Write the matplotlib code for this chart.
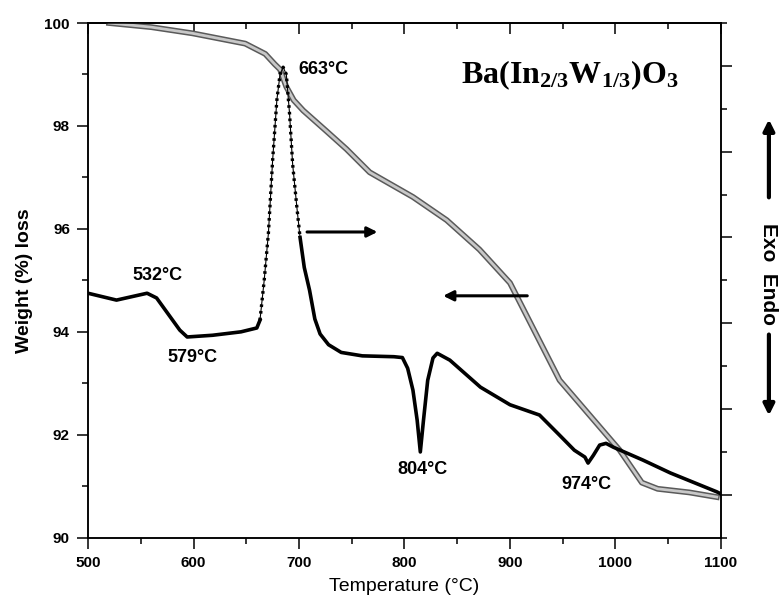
import matplotlib
matplotlib.use("Agg")
import matplotlib.pyplot as plt
import matplotlib.patheffects as pe
import numpy as np

plt.rcParams['font.family'] = ['Liberation Sans', 'DejaVu Sans']
plt.rcParams['mathtext.fontset'] = 'custom'
plt.rcParams['mathtext.bf'] = 'Liberation Serif:bold'
plt.rcParams['mathtext.rm'] = 'Liberation Serif:bold'

# TG curve (weight %, left axis)
tg_temp = [520, 560, 599, 649, 668, 677, 682, 688, 695, 704, 726, 745, 767, 808,
           840, 871, 900, 947, 1004, 1025, 1040, 1070, 1096]
tg_weight = [100.0, 99.92, 99.8, 99.6, 99.4, 99.2, 99.1, 98.76, 98.5, 98.3, 97.9,
             97.55, 97.1, 96.62, 96.17, 95.6, 94.95, 93.06, 91.7, 91.07, 90.95,
             90.88, 90.79]

# DTA curve (arbitrary units, right axis)
dta_temp = [500, 527, 556, 565, 587, 594, 618, 645, 660, 663, 667, 671, 675, 679,
            682, 685, 688, 691, 694, 698, 701, 705, 710, 715, 720, 728, 740, 760,
            790, 798, 803, 808, 812, 815, 818, 822, 827, 831, 843, 872, 900, 928,
            947, 961, 971, 974, 979, 985, 991, 998, 1026, 1052, 1073, 1096, 1100]
dta_signal = [4.70, 4.54, 4.70, 4.59, 3.84, 3.68, 3.72, 3.80, 3.89, 4.07, 5.0, 6.1,
              7.8, 9.2, 9.8, 9.97, 9.8, 8.9, 7.7, 6.7, 6.0, 5.3, 4.77, 4.1, 3.75,
              3.5, 3.32, 3.24, 3.22, 3.2, 2.95, 2.44, 1.74, 1.0, 1.74, 2.67, 3.19,
              3.30, 3.14, 2.51, 2.1, 1.86, 1.39, 1.04, 0.88, 0.74, 0.92, 1.16, 1.2,
              1.11, 0.81, 0.51, 0.30, 0.07, 0.02]

peak_labels = ["532°C", "579°C", "663°C", "804°C", "974°C"]
peak_label_x = [566, 599, 699, 817, 972]
peak_label_y = [95.1, 93.5, 99.1, 91.32, 91.03]
peak_label_ha = ["center", "center", "left", "center", "center"]

fig = plt.figure(figsize=(7.83, 6.01), dpi=100)
ax = fig.add_axes([0.1124, 0.1053, 0.8084, 0.8564])
ax2 = ax.twinx()

# TG: grey hollow-square look
ax.plot(tg_temp, tg_weight, color='#c8c8c8', lw=2.0, zorder=3,
        path_effects=[pe.Stroke(linewidth=4.2, foreground='#5a5a5a'), pe.Normal()])

# DTA: solid black, dotted on the steep exothermic peak
dta_temp = np.array(dta_temp)
dta_signal = np.array(dta_signal)
steep = (dta_temp >= 663) & (dta_temp <= 701)
ax2.plot(dta_temp[dta_temp <= 663], dta_signal[dta_temp <= 663], color='k', lw=2.6)
ax2.plot(dta_temp[dta_temp >= 701], dta_signal[dta_temp >= 701], color='k', lw=2.6)
ax2.plot(dta_temp[steep], dta_signal[steep], color='k', lw=0.8)
ax2.plot(dta_temp[steep], dta_signal[steep], color='k', lw=2.4, ls=(0, (0.8, 1.2)))

ax.set_xlim(500, 1100)
ax.set_ylim(90, 100)
ax2.set_ylim(-1, 11)

ax.set_xticks(np.arange(500, 1101, 100))
ax.set_xticks(np.arange(550, 1100, 100), minor=True)
ax.set_yticks(np.arange(90, 101, 2))
ax.set_yticks(np.arange(91, 100, 2), minor=True)
ax2.set_yticks(np.arange(0, 11, 2))
ax2.set_yticks(np.arange(-1, 12, 2), minor=True)
ax2.set_yticklabels([])

for a in (ax, ax2):
    for s in a.spines.values():
        s.set_linewidth(1.1)
ax.tick_params(which='major', direction='out', length=8, width=1.1, labelsize=11, pad=5)
ax.tick_params(which='minor', direction='out', length=4, width=1.1)
ax2.tick_params(which='major', direction='out', length=8, width=1.1)
ax2.tick_params(which='minor', direction='out', length=4, width=1.1)
for lab in ax.get_xticklabels() + ax.get_yticklabels():
    lab.set_fontweight('bold')

top = ax.secondary_xaxis('top')
top.set_xticks(np.arange(500, 1101, 100))
top.set_xticks(np.arange(550, 1100, 100), minor=True)
top.set_xticklabels([])
top.tick_params(which='major', direction='in', length=8, width=1.1)
top.tick_params(which='minor', direction='in', length=4, width=1.1)
top.spines['top'].set_linewidth(1.1)

ax.set_xlabel("Temperature (°C)", fontsize=14, labelpad=6)
ax.set_ylabel("Weight (%) loss", fontsize=14, fontweight='bold', labelpad=8)

for txt, x, y, ha in zip(peak_labels, peak_label_x, peak_label_y, peak_label_ha):
    ax.text(x, y, txt, fontsize=13, fontweight='bold', ha=ha, va='center', zorder=5)

ax.text(854, 98.83, r"$\mathbf{Ba(In_{2/3}W_{1/3})O_3}$", fontsize=23,
        ha='left', va='baseline')

# direction arrows inside the plot
ax.annotate("", xy=(777, 95.94), xytext=(705, 95.94),
            arrowprops=dict(arrowstyle='-|>', lw=2.2, color='k', mutation_scale=15))
ax.annotate("", xy=(834, 94.7), xytext=(919, 94.7),
            arrowprops=dict(arrowstyle='-|>', lw=2.2, color='k', mutation_scale=15))

# Exo / Endo outside on the right
fig.text(0.982, 0.544, "Exo  Endo", rotation=-90, fontsize=15, fontweight='bold',
         ha='center', va='center')
fig.add_artist(matplotlib.patches.FancyArrowPatch((0.982, 0.667), (0.982, 0.806),
               transform=fig.transFigure, arrowstyle='-|>', lw=3, color='k',
               mutation_scale=16))
fig.add_artist(matplotlib.patches.FancyArrowPatch((0.982, 0.448), (0.982, 0.304),
               transform=fig.transFigure, arrowstyle='-|>', lw=3, color='k',
               mutation_scale=16))

fig.savefig("out.png", dpi=100)
